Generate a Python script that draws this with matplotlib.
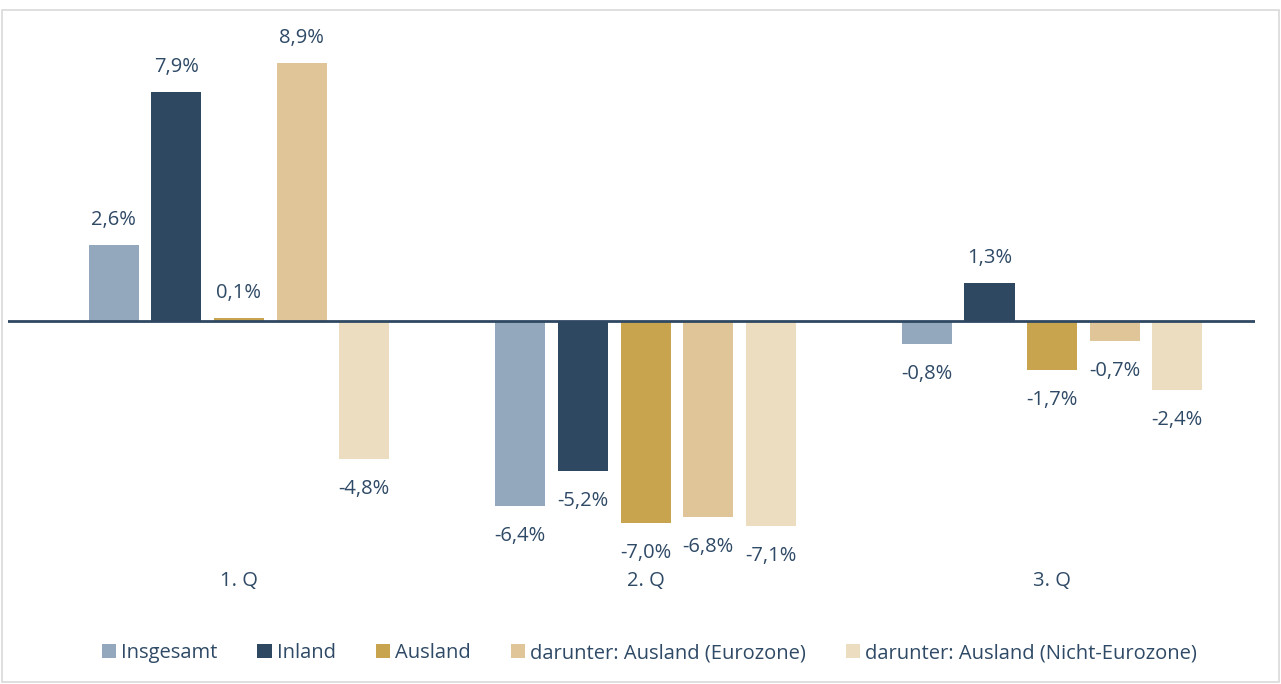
import matplotlib.pyplot as plt
import numpy as np
from matplotlib.patches import Patch, Rectangle

plt.rcParams['font.family'] = ['Open Sans', 'DejaVu Sans']

quarters = ['1. Q', '2. Q', '3. Q']
series = ['Insgesamt', 'Inland', 'Ausland',
          'darunter: Ausland (Eurozone)', 'darunter: Ausland (Nicht-Eurozone)']
insgesamt = [2.6, -6.4, -0.8]
inland = [7.9, -5.2, 1.3]
ausland = [0.1, -7.0, -1.7]
eurozone = [8.9, -6.8, -0.7]
nicht_eurozone = [-4.8, -7.1, -2.4]
colors = ['#93A8BC', '#2E4862', '#C9A44E', '#E0C598', '#EDDDC0']

text_color = '#2F4A66'

values = [insgesamt, inland, ausland, eurozone, nicht_eurozone]

W, H = 1281, 684
fig = plt.figure(figsize=(W / 100, H / 100), dpi=100)

# light frame around the chart
fig.patches.append(Rectangle((2 / W, 2 / H), (W - 4) / W, (H - 12) / H,
                             transform=fig.transFigure, fill=False,
                             edgecolor='#D9D9D9', linewidth=1.2))

ax = fig.add_axes([8 / W, (H - 600) / H, 1247 / W, 560 / H])

x = np.arange(len(quarters))
step = 0.154
width = 0.123
for i, (name, vals, c) in enumerate(zip(series, values, colors)):
    pos = x + (i - 2) * step
    ax.bar(pos, vals, width, color=c, label=name, zorder=2)
    for p, v in zip(pos, vals):
        label = f'{v:.1f}%'.replace('.', ',')
        off = 25 if v >= 0 else -30
        ax.annotate(label, (p, v), xytext=(0, off), textcoords='offset pixels',
                    ha='center', va='center', fontsize=14.5, color=text_color)

ax.axhline(0, color='#2E4862', linewidth=2, zorder=3)

for xi, q in zip(x, quarters):
    ax.text(xi, -9.0, q, ha='center', va='center', fontsize=14.5,
            color=text_color)

ax.set_xlim(-0.568, 2.499)
ax.set_ylim(-9.67, 9.71)
ax.axis('off')

handles = [Patch(facecolor=c, edgecolor='none') for c in colors]
fig.legend(handles, series, loc='center', bbox_to_anchor=(0.507, 1 - 653 / H),
           ncol=5, frameon=False, fontsize=14.5, handlelength=0.7,
           handleheight=0.7, handletextpad=0.25, columnspacing=2.0,
           labelcolor=text_color)

fig.savefig('out.png', dpi=100)
